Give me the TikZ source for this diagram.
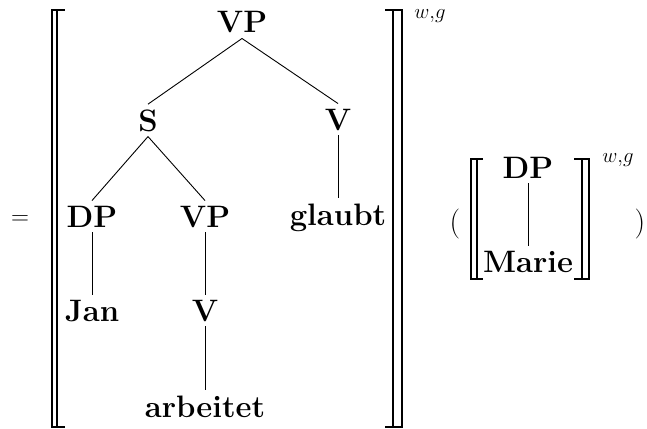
\documentclass[tikz,border=0pt]{standalone}
\begin{document}
\begin{tikzpicture}[x=1pt,y=-1pt,
  lbl/.style={font=\fontsize{31}{36}\selectfont\bfseries, inner sep=5pt, anchor=base},
  sym/.style={font=\fontsize{30}{35}\selectfont, inner sep=0pt},
  sup/.style={font=\fontsize{21}{25}\selectfont, inner sep=0pt},
  edge/.style={line width=0.9pt},
  brk/.style={line width=1.6pt},
  serif/.style={line width=1.3pt}]
\useasboundingbox (0,0) rectangle (647,428);
% big tree
\node[lbl] (vp)  at (242,33)  {VP};
\node[lbl] (s)   at (148,131) {S};
\node[lbl] (v1)  at (338,130) {V};
\node[lbl] (dp)  at (92,227)  {DP};
\node[lbl] (vp2) at (205,227) {VP};
\node[lbl] (gl)  at (338,225) {glaubt};
\node[lbl] (jan) at (92,321)  {Jan};
\node[lbl] (v2)  at (205,321) {V};
\node[lbl] (arb) at (205,417) {arbeitet};
\draw[edge] (vp.south) -- (s.north);
\draw[edge] (vp.south) -- (v1.north);
\draw[edge] (s.south) -- (dp.north);
\draw[edge] (s.south) -- (vp2.north);
\draw[edge] (v1.south) -- (gl.north);
\draw[edge] (dp.south) -- (jan.north);
\draw[edge] (vp2.south) -- (v2.north);
\draw[edge] (v2.south) -- (arb.north);
% small tree
\node[lbl] (dps) at (528,178) {DP};
\node[lbl] (mar) at (528,272) {Marie};
\draw[edge] (dps.south) -- (mar.north);
% big brackets
\draw[brk] (52,10) -- (52,427);
\draw[brk] (57,10) -- (57,427);
\draw[serif] (51.2,10) -- (65,10);
\draw[serif] (51.2,427) -- (65,427);
\draw[brk] (393,10) -- (393,427);
\draw[brk] (402,10) -- (402,427);
\draw[serif] (385,10) -- (402.8,10);
\draw[serif] (385,427) -- (402.8,427);
% small brackets
\draw[brk] (471,159) -- (471,279);
\draw[brk] (477,159) -- (477,279);
\draw[serif] (470.2,159) -- (483,159);
\draw[serif] (470.2,279) -- (483,279);
\draw[brk] (582,159) -- (582,279);
\draw[brk] (589,159) -- (589,279);
\draw[serif] (574,159) -- (589.8,159);
\draw[serif] (574,279) -- (589.8,279);
% superscripts and symbols
\node[sup] (wg1) at (430,16) {$w{,}g$};
\node[sup] (wg2) at (618,160) {$w{,}g$};
\node[sym] (eq) at (20,220) {$=$};
\node[sym] (lp) at (455,224) {(};
\node[sym] (rp) at (640,224) {)};
\end{tikzpicture}
\end{document}
